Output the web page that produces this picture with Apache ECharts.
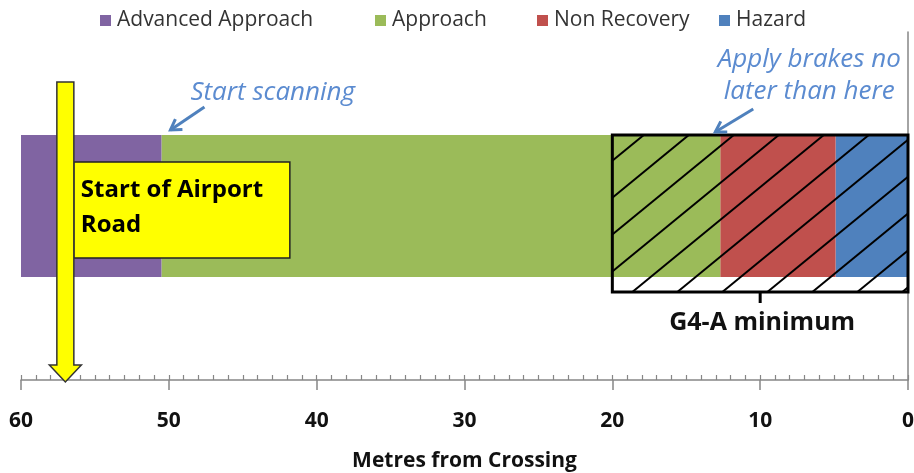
<!DOCTYPE html>
<html>
<head>
<meta charset="utf-8">
<script src="https://cdn.jsdelivr.net/npm/echarts@6/dist/echarts.min.js"></script>
<style>
html,body{margin:0;padding:0;background:#fff;}
#chart{width:914px;height:473px;}
</style>
</head>
<body>
<div id="chart"></div>
<script>
// ---- data ----
const categories = [''];
const legendNames = ['Advanced Approach', 'Approach', 'Non Recovery', 'Hazard'];
const hazard = [4.9];
const nonRecovery = [7.8];
const approach = [37.8];
const advancedApproach = [9.5];
const xAxisMin = 0, xAxisMax = 60, xAxisInterval = 10;
const g4aRange = [0, 20];          // G4-A minimum hatched zone (metres)
const airportRoadAt = [57];        // Start of Airport Road marker (metres)
const scanStartAt = [50.5];        // Start scanning boundary
const brakeAt = [12.7];            // Apply brakes boundary

const colors = {
  'Advanced Approach': '#8064A2',
  'Approach': '#9BBB59',
  'Non Recovery': '#C0504D',
  'Hazard': '#4F81BD'
};
const BAR_W = 142;
const FONT = '"Open Sans", "Liberation Sans", sans-serif';
const NOTE_COLOR = '#5B8BD0';

const chart = echarts.init(document.getElementById('chart'), null, {renderer: 'canvas'});

function bar(name, data) {
  return {
    name: name, type: 'bar', stack: 'total', data: data,
    barWidth: BAR_W, itemStyle: {color: colors[name]}, silent: true
  };
}

function legendAt(name, left) {
  return {
    data: [name], left: left, top: 10, padding: 0, icon: 'rect', itemWidth: 11, itemHeight: 11,
    itemGap: 0, selectedMode: false,
    textStyle: {fontFamily: FONT, fontSize: 21, color: '#333', padding: [0, 0, 0, 1]}
  };
}

function clippedHatch(x1, y1, x2, y2, slope, spacing, offset) {
  const lines = [];
  const bStart = y2 + slope * (x1 + offset);
  let b = bStart;
  while (b - slope * spacing > y1 + slope * x1) b -= slope * spacing;
  for (; b < y2 + slope * x2; b += slope * spacing) {
    let xa = Math.max(x1, (b - y2) / slope);
    let xb = Math.min(x2, (b - y1) / slope);
    if (xb > xa) lines.push([xa, b - slope * xa, xb, b - slope * xb]);
  }
  return lines;
}

function arrowEl(x1, y1, x2, y2, color) {
  const ang = Math.atan2(y2 - y1, x2 - x1);
  const L = 12, A = 0.55;
  const p1 = [x2 - L * Math.cos(ang - A), y2 - L * Math.sin(ang - A)];
  const p2 = [x2 - L * Math.cos(ang + A), y2 - L * Math.sin(ang + A)];
  return [
    {type: 'line', shape: {x1: x1, y1: y1, x2: x2, y2: y2}, style: {stroke: color, lineWidth: 3}},
    {type: 'polyline', shape: {points: [p1, [x2, y2], p2]}, style: {stroke: color, lineWidth: 3, fill: null}}
  ];
}

function renderOverlay(params, api) {
  const cy = api.coord([0, 0])[1];
  const band = api.size([0, 1])[1];
  const gridTop = cy - band / 2, gridBot = cy + band / 2;
  const barTop = cy - BAR_W / 2, barBot = cy + BAR_W / 2;
  const children = [];

  // --- G4-A minimum hatched box ---
  const xa = api.coord([g4aRange[1], 0])[0];
  const xb = api.coord([g4aRange[0], 0])[0];
  const boxBot = barBot + 15;
  clippedHatch(xa, barTop, xb, boxBot, 0.82, 45, 20).forEach(function (l) {
    children.push({type: 'line', shape: {x1: l[0], y1: l[1], x2: l[2], y2: l[3]},
      style: {stroke: '#000', lineWidth: 2}});
  });
  children.push({type: 'rect', shape: {x: xa, y: barTop, width: xb - xa, height: boxBot - barTop},
    style: {fill: null, stroke: '#000', lineWidth: 3}});
  const xm = (xa + xb) / 2;
  children.push({type: 'line', shape: {x1: xm, y1: boxBot, x2: xm, y2: boxBot + 11},
    style: {stroke: '#000', lineWidth: 3}});
  children.push({type: 'text', x: xm + 2, y: boxBot + 31,
    style: {text: 'G4-A minimum', fontFamily: FONT, fontWeight: 'bold', fontSize: 25,
      fill: '#111', align: 'center', verticalAlign: 'middle'}});

  // --- Start scanning note ---
  const xs = api.coord([scanStartAt[0], 0])[0];
  children.push({type: 'text', x: xs + 29, y: barTop - 42,
    style: {text: 'Start scanning', fontFamily: FONT, fontStyle: 'italic', fontSize: 26,
      fill: NOTE_COLOR, align: 'left', verticalAlign: 'middle'}});
  arrowEl(xs + 43, barTop - 28, xs + 9, barTop - 5, '#4F81BD').forEach(function (e) { children.push(e); });

  // --- Apply brakes note ---
  const xr = api.coord([brakeAt[0], 0])[0];
  children.push({type: 'text', x: xr + 89, y: barTop - 59,
    style: {text: 'Apply brakes no\nlater than here', fontFamily: FONT, fontStyle: 'italic', fontSize: 26,
      lineHeight: 32, fill: NOTE_COLOR, align: 'center', verticalAlign: 'middle'}});
  arrowEl(xr + 33, barTop - 26, xr - 5, barTop - 3, '#4F81BD').forEach(function (e) { children.push(e); });

  // --- Start of Airport Road sign ---
  const xp = api.coord([airportRoadAt[0], 0])[0];
  const hw = 8.5;
  const signL = xp + hw;
  children.push({type: 'rect', shape: {x: signL, y: cy - 44, width: 216, height: 96},
    style: {fill: '#FFFF00', stroke: '#222', lineWidth: 1.5}});
  children.push({type: 'text', x: signL + 7, y: cy - 16,
    style: {text: 'Start of Airport', fontFamily: FONT, fontWeight: 'bold', fontSize: 24,
      fill: '#000', align: 'left', verticalAlign: 'middle'}});
  children.push({type: 'text', x: signL + 7, y: cy + 19,
    style: {text: 'Road', fontFamily: FONT, fontWeight: 'bold', fontSize: 24,
      fill: '#000', align: 'left', verticalAlign: 'middle'}});
  const headTop = gridBot - 15, tip = gridBot + 2, top = gridTop + 50;
  children.push({type: 'polygon', shape: {points: [
      [xp - hw, top], [xp + hw, top], [xp + hw, headTop], [xp + 16, headTop],
      [xp, tip], [xp - 16, headTop], [xp - hw, headTop]]},
    style: {fill: '#FFFF00', stroke: '#333', lineWidth: 1.5}});

  return {type: 'group', children: children};
}

const option = {
  animation: false,
  backgroundColor: '#fff',
  legend: [
    legendAt('Advanced Approach', 100),
    legendAt('Approach', 375),
    legendAt('Non Recovery', 537),
    legendAt('Hazard', 719)
  ],
  grid: {left: 21, right: 6, top: 32, bottom: 93, containLabel: false, outerBoundsMode: 'none'},
  xAxis: [{
    type: 'value', inverse: true, min: xAxisMin, max: xAxisMax, interval: xAxisInterval,
    axisLine: {show: true, lineStyle: {color: '#868686', width: 1.5}},
    axisTick: {show: true, length: 10, lineStyle: {color: '#868686', width: 1.5}},
    splitLine: {show: false},
    axisLabel: {fontFamily: FONT, fontSize: 21, fontWeight: 'bold', color: '#111', margin: 31},
    name: 'Metres from Crossing', nameLocation: 'middle', nameGap: 71,
    nameTextStyle: {fontFamily: FONT, fontSize: 21, fontWeight: 'bold', color: '#111'}
  }, {
    type: 'value', inverse: true, min: xAxisMin, max: xAxisMax, interval: 1,
    position: 'bottom', gridIndex: 0,
    axisLine: {show: false},
    axisTick: {show: true, inside: true, length: 5, lineStyle: {color: '#868686', width: 1.2}},
    axisLabel: {show: false}, splitLine: {show: false}
  }],
  yAxis: {
    type: 'category', data: categories,
    axisLine: {show: true, lineStyle: {color: '#868686', width: 1.5}},
    axisTick: {show: false}, axisLabel: {show: false}, splitLine: {show: false}
  },
  series: [
    bar('Hazard', hazard),
    bar('Non Recovery', nonRecovery),
    bar('Approach', approach),
    bar('Advanced Approach', advancedApproach),
    {
      type: 'custom', name: 'overlay', data: [[0, 0]], renderItem: renderOverlay,
      silent: true, z: 10, clip: false
    }
  ]
};
chart.setOption(option);
</script>
</body>
</html>
